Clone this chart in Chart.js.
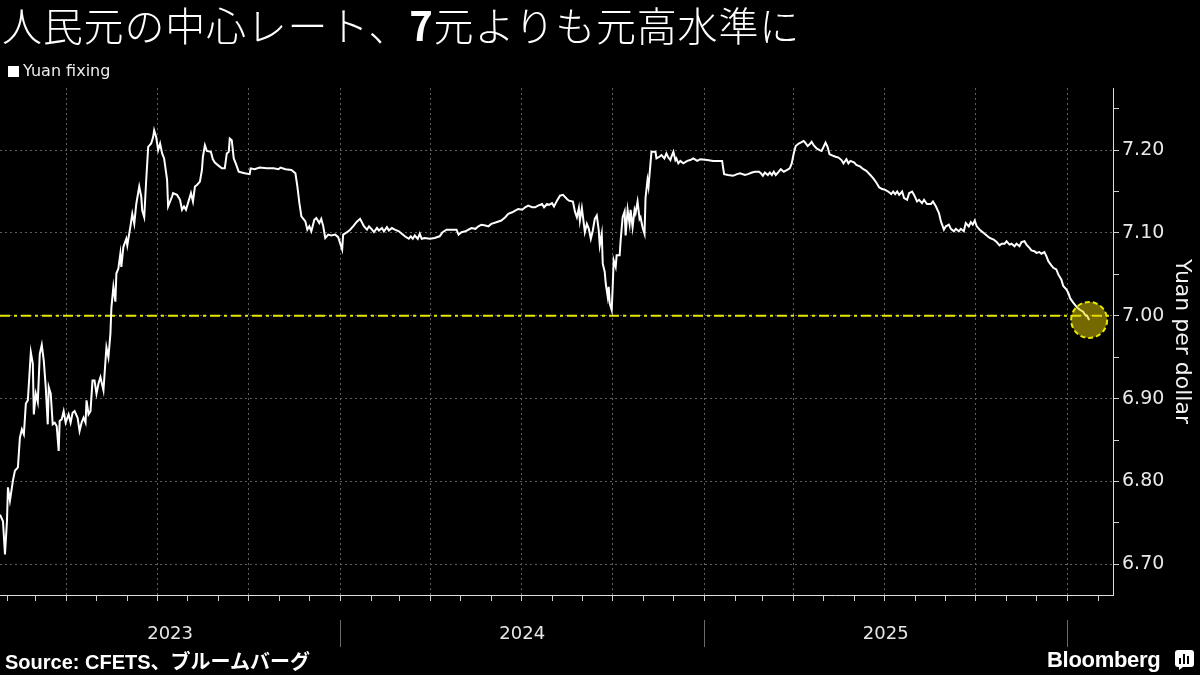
<!DOCTYPE html>
<html>
<head>
<meta charset="utf-8">
<script src="https://cdn.jsdelivr.net/npm/chart.js@4.4.1/dist/chart.umd.min.js"></script>
<style>
html,body{margin:0;padding:0;background:#000;width:1200px;height:675px;overflow:hidden;}
#wrap{position:relative;width:1200px;height:675px;background:#000;}
#c{position:absolute;left:0;top:0;}
#title{position:absolute;left:2px;top:-5px;font-family:"Noto Sans CJK JP",sans-serif;font-size:40px;line-height:58px;color:#fff;white-space:nowrap;font-weight:300;letter-spacing:0.8px;}
#title b{font-weight:700;}
#legend{position:absolute;left:8px;top:61px;font-family:"DejaVu Sans",sans-serif;font-size:16px;line-height:20px;color:#ececec;white-space:nowrap;}
#legend .sw{display:inline-block;width:11px;height:11px;background:#fff;margin-right:4px;vertical-align:-1px;}
#source{position:absolute;left:5px;top:650px;font-family:"Liberation Sans","Noto Sans CJK JP",sans-serif;font-weight:700;font-size:20px;line-height:24px;color:#fff;white-space:nowrap;}
#logo{position:absolute;left:1047px;top:647px;font-family:"Liberation Sans",sans-serif;font-weight:700;font-size:22px;line-height:26px;color:#fff;white-space:nowrap;letter-spacing:-0.3px;}
#logo svg{position:absolute;left:128px;top:3px;}
</style>
</head>
<body>
<div id="wrap">
  <canvas id="c" width="1200" height="675"></canvas>
  <div id="title">人民元の中心レート、<b>7</b>元よりも元高水準に</div>
  <div id="legend"><span class="sw"></span>Yuan fixing</div>
  <div id="source">Source: CFETS、ブルームバーグ</div>
  <div id="logo">Bloomberg<svg width="19" height="20" viewBox="0 0 19 20"><rect x="0" y="0" width="19" height="17" rx="3" fill="#fff"/><path d="M4 17 L4 20 L8 17 Z" fill="#fff"/><rect x="4" y="8" width="2" height="6" fill="#000"/><rect x="8" y="4" width="2" height="10" fill="#000"/><rect x="12" y="6" width="2" height="8" fill="#000"/></svg></div>
</div>
<script>
// ---- data (days counted from BASE_DATE) ----
const BASE_DATE = '2023-01-01';
const X_START = '2023-01-24';
const X_END = '2026-02-16';
const seriesName = 'Yuan fixing';
const axisTitle = 'Yuan per dollar';
const yearLabels = ['2023', '2024', '2025'];
const yearStarts = ['2023-01-01', '2024-01-01', '2025-01-01', '2026-01-01'];
const yMajorTicks = [6.70, 6.80, 6.90, 7.00, 7.10, 7.20];
const yMinorTicks = [6.75, 6.85, 6.95, 7.05, 7.15, 7.25];
const Y_MIN = 6.663;
const Y_MAX = 7.275;
const threshold = 7.00;

const days = [
  23,26,28,30,31,33,35,36,38,41,43,45,47,49,51,54,56,57,59,61,63,65,67,69,71,72,74,76,78,80,
  82,83,85,87,89,92,94,96,98,101,103,105,107,109,110,112,114,116,118,120,122,124,127,130,132,134,135,137,139,140,
  142,144,145,147,150,151,154,156,158,160,163,165,166,168,170,172,175,177,178,180,182,184,186,188,
  191,192,196,197,201,204,206,208,210,212,215,217,219,221,224,226,227,229,231,235,237,239,243,246,249,251,253,254,256,258,
  260,263,266,269,274,275,279,284,291,298,303,305,310,316,320,322,324,326,330,332,334,336,339,341,344,346,348,350,353,356,
  360,363,367,368,372,375,378,382,385,
  389,392,394,397,399,402,404,407,409,412,414,417,420,424,427,430,434,436,438,440,443,445,447,450,455,460,465,468,472,477,
  482,484,487,491,494,497,501,504,507,511,514,517,522,527,531,534,538,541,544,548,551,554,558,561,564,568,570,573,575,578,
  580,583,586,589,593,595,
  599,601,603,605,606,608,610,611,613,615,617,619,621,623,625,626,628,629,631,632,634,635,636,638,639,640,642,643,646,647,
  649,651,652,654,656,657,659,661,662,664,666,667,669,671,672,674,675,677,678,682,683,686,688,691,693,695,697,698,700,702,
  703,705,707,710,714,717,720,724,727,734,740,747,749,751,755,760,764,767,
  772,775,779,782,786,788,790,792,795,797,799,801,803,806,808,811,814,817,819,821,823,826,828,831,832,835,837,839,841,844,
  847,849,851,853,855,857,859,863,866,869,871,874,876,878,882,884,888,891,894,898,901,904,907,910,913,916,919,921,923,925,
  927,930,932,935,937,940,942,945,947,950,952,955,
  959,961,964,967,969,972,974,977,979,982,984,987,989,992,994,997,999,1001,1003,1005,1008,1012,1015,1018,1022,1025,1028,1030,1033,1035,
  1038,1040,1043,1045,1048,1050,1053,1055,1058,1060,1063,1065,1068,1070,1073,1075,1077,1080,1082,1085,1087,1090,1092,1095,1097,1099,1102,1104,1106,1109,
  1112,1114,1116,1118
];

const fixing = [
  6.760,6.752,6.712,6.752,6.793,6.777,6.793,6.801,6.813,6.817,6.853,6.863,6.857,6.894,6.898,6.956,6.942,6.881,6.906,6.896,6.954,6.965,6.946,6.914,6.869,6.914,6.906,6.869,6.871,6.867,
  6.837,6.873,6.875,6.885,6.871,6.881,6.871,6.883,6.885,6.877,6.861,6.871,6.877,6.871,6.898,6.881,6.885,6.922,6.922,6.906,6.918,6.926,6.910,6.962,6.950,6.978,7.010,7.035,7.017,7.051,
  7.057,7.075,7.059,7.083,7.093,7.085,7.107,7.123,7.111,7.135,7.156,7.144,7.127,7.119,7.164,7.204,7.208,7.216,7.224,7.216,7.200,7.208,7.196,7.190,
  7.164,7.132,7.144,7.148,7.146,7.140,7.128,7.132,7.128,7.136,7.148,7.138,7.156,7.158,7.162,7.176,7.192,7.206,7.199,7.198,7.189,7.185,7.181,7.178,7.178,7.196,7.198,7.214,7.212,7.190,
  7.184,7.174,7.173,7.172,7.171,7.178,7.177,7.179,7.178,7.178,7.177,7.179,7.177,7.176,7.172,7.156,7.136,7.120,7.114,7.104,7.108,7.102,7.116,7.118,7.112,7.117,7.108,7.094,7.098,7.097,
  7.098,7.095,7.080,7.098,7.101,7.104,7.108,7.114,7.117,
  7.108,7.104,7.108,7.104,7.101,7.106,7.103,7.106,7.102,7.107,7.103,7.106,7.104,7.102,7.099,7.096,7.093,7.096,7.093,7.097,7.093,7.099,7.093,7.094,7.093,7.094,7.096,7.101,7.104,7.104,
  7.104,7.098,7.101,7.102,7.104,7.106,7.105,7.108,7.110,7.109,7.108,7.111,7.113,7.115,7.119,7.123,7.125,7.127,7.129,7.128,7.131,7.133,7.131,7.131,7.133,7.135,7.131,7.135,7.134,7.136,
  7.132,7.139,7.145,7.146,7.141,7.139,
  7.138,7.126,7.119,7.130,7.115,7.130,7.111,7.101,7.111,7.105,7.093,7.103,7.117,7.121,7.103,7.085,7.099,7.063,7.053,7.039,7.023,7.035,7.015,7.007,7.035,7.067,7.059,7.073,7.073,7.091,
  7.119,7.126,7.097,7.128,7.111,7.128,7.107,7.128,7.124,7.138,7.117,7.119,7.107,7.099,7.142,7.164,7.156,7.184,7.198,7.198,7.190,7.192,7.194,7.190,7.196,7.191,7.188,7.192,7.198,7.188,
  7.190,7.184,7.187,7.184,7.187,7.188,7.190,7.187,7.189,7.188,7.187,7.187,7.187,7.171,7.170,7.169,7.171,7.172,
  7.170,7.171,7.173,7.174,7.174,7.172,7.169,7.173,7.170,7.173,7.170,7.174,7.170,7.174,7.177,7.174,7.176,7.178,7.184,7.196,7.205,7.208,7.209,7.211,7.210,7.205,7.207,7.210,7.206,7.202,
  7.200,7.199,7.204,7.209,7.204,7.195,7.194,7.192,7.191,7.188,7.184,7.189,7.184,7.187,7.185,7.182,7.180,7.177,7.175,7.170,7.166,7.161,7.155,7.153,7.152,7.150,7.147,7.150,7.147,7.150,
  7.146,7.150,7.142,7.140,7.148,7.150,7.146,7.138,7.140,7.136,7.140,7.135,
  7.135,7.138,7.132,7.124,7.114,7.104,7.108,7.110,7.105,7.102,7.105,7.102,7.105,7.102,7.112,7.108,7.113,7.110,7.115,7.108,7.104,7.100,7.097,7.094,7.092,7.089,7.085,7.087,7.087,7.090,
  7.086,7.087,7.084,7.087,7.084,7.089,7.090,7.086,7.082,7.079,7.078,7.076,7.077,7.075,7.077,7.072,7.066,7.061,7.058,7.056,7.050,7.044,7.036,7.032,7.028,7.021,7.016,7.013,7.010,7.007,
  7.005,7.001,7.000,6.995
];

// ---- helpers ----
const DAY_MS = 86400000;
const baseMs = Date.parse(BASE_DATE + 'T00:00:00Z');
function dayOf(iso) { return Math.round((Date.parse(iso + 'T00:00:00Z') - baseMs) / DAY_MS); }
const xMin = dayOf(X_START);
const xMax = dayOf(X_END);

// monthly tick positions (month starts) inside the range
const monthTicks = [];
const quarterSet = new Set();
for (let y = 2023; y <= 2026; y++) {
  for (let m = 0; m < 12; m++) {
    const d = Math.round((Date.UTC(y, m, 1) - baseMs) / DAY_MS);
    if (d >= xMin && d <= xMax) {
      monthTicks.push(d);
      if (m % 3 === 0) quarterSet.add(d);
    }
  }
}
const yAllTicks = yMajorTicks.concat(yMinorTicks).sort((a, b) => a - b);
const isMajorY = v => yMajorTicks.some(m => Math.abs(m - v) < 1e-6);

const points = days.map((d, i) => ({ x: d, y: fixing[i] }));
const GRID = '#5e5e5e';
const AXIS = '#dcdcdc';
const YELLOW = '#e6e600';

const yearPlugin = {
  id: 'years',
  afterDraw(chart) {
    const { ctx, chartArea, scales: { x } } = chart;
    const xs = yearStarts.map(s => x.getPixelForValue(dayOf(s)));
    ctx.save();
    ctx.strokeStyle = '#6a6a6a';
    ctx.lineWidth = 1;
    for (let i = 1; i < xs.length; i++) {
      const px = Math.round(xs[i]) + 0.5;
      ctx.beginPath();
      ctx.moveTo(px, 620);
      ctx.lineTo(px, 647);
      ctx.stroke();
    }
    ctx.fillStyle = '#e6e6e6';
    ctx.font = '18px "DejaVu Sans", sans-serif';
    ctx.textAlign = 'center';
    ctx.textBaseline = 'middle';
    yearLabels.forEach((lab, i) => {
      const l = Math.max(xs[i], chartArea.left);
      const r = Math.min(xs[i + 1], chartArea.right);
      ctx.fillText(lab, (l + r) / 2, 634);
    });
    ctx.restore();
  }
};

const markerPlugin = {
  id: 'marker',
  afterDatasetsDraw(chart) {
    const meta = chart.getDatasetMeta(1);
    const last = meta.data[meta.data.length - 1];
    if (!last) return;
    const { ctx } = chart;
    ctx.save();
    ctx.beginPath();
    ctx.arc(last.x, last.y, 18, 0, Math.PI * 2);
    ctx.fillStyle = 'rgba(230,210,0,0.5)';
    ctx.fill();
    ctx.setLineDash([5, 3]);
    ctx.lineWidth = 2;
    ctx.strokeStyle = YELLOW;
    ctx.stroke();
    ctx.restore();
  }
};

new Chart(document.getElementById('c'), {
  type: 'line',
  data: {
    datasets: [
      {
        label: '7.00',
        data: [{ x: xMin, y: threshold }, { x: xMax, y: threshold }],
        borderColor: YELLOW,
        borderWidth: 2,
        borderDash: [10, 4, 3, 4],
        pointRadius: 0,
        order: 2
      },
      {
        label: seriesName,
        data: points,
        borderColor: '#ffffff',
        borderWidth: 2,
        pointRadius: 0,
        tension: 0,
        order: 1
      }
    ]
  },
  options: {
    responsive: false,
    animation: false,
    devicePixelRatio: 1,
    parsing: true,
    layout: { padding: { top: 88, left: 0, right: 0, bottom: 0 } },
    plugins: { legend: { display: false }, title: { display: false }, tooltip: { enabled: false } },
    scales: {
      x: {
        type: 'linear',
        min: xMin,
        max: xMax,
        afterBuildTicks: s => { s.ticks = monthTicks.map(v => ({ value: v })); },
        afterFit: s => { s.height = 80; },
        ticks: { autoSkip: false, maxRotation: 0, callback: () => '', padding: 0 },
        grid: {
          color: c => (c.tick && quarterSet.has(c.tick.value)) ? GRID : 'rgba(0,0,0,0)',
          lineWidth: 1,
          drawTicks: true,
          tickLength: 6,
          tickColor: '#cfcfcf'
        },
        border: { display: true, color: AXIS, width: 1, dash: [2, 3] }
      },
      y: {
        type: 'linear',
        position: 'right',
        min: Y_MIN,
        max: Y_MAX,
        afterBuildTicks: s => { s.ticks = yAllTicks.map(v => ({ value: v })); },
        afterFit: s => { s.width = 87; },
        ticks: {
          autoSkip: false,
          padding: 3,
          color: '#e8e8e8',
          font: { family: 'DejaVu Sans', size: 19 },
          callback: v => isMajorY(v) ? v.toFixed(2) : ''
        },
        grid: {
          color: c => (c.tick && isMajorY(c.tick.value)) ? GRID : 'rgba(0,0,0,0)',
          lineWidth: 1,
          drawTicks: true,
          tickLength: 6,
          tickColor: '#d0d0d0'
        },
        border: { display: true, color: AXIS, width: 1, dash: [2, 3] },
        title: {
          display: true,
          text: axisTitle,
          color: '#f2f2f2',
          font: { family: 'DejaVu Sans', size: 22 },
          padding: { top: 5, bottom: 0 }
        }
      }
    }
  },
  plugins: [yearPlugin, markerPlugin]
});
</script>
</body>
</html>
